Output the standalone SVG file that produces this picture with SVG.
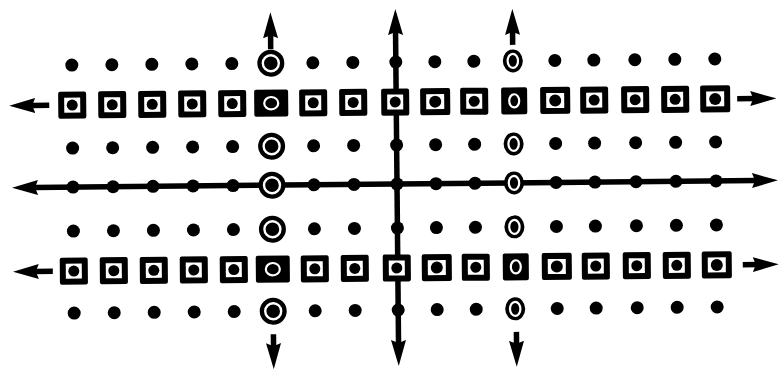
<svg xmlns="http://www.w3.org/2000/svg" xmlns:xlink="http://www.w3.org/1999/xlink" width="780" height="369" viewBox="0 0 780 369">
<style>
.ln{stroke:#000;stroke-width:5.5;fill:none}
.ax{marker-end:url(#ah)}
.ax2{marker-start:url(#ah);marker-end:url(#ah)}
</style>
<defs>
<marker id="ah" markerUnits="userSpaceOnUse" viewBox="0 0 26 16" markerWidth="26" markerHeight="16" refX="4" refY="8" orient="auto-start-reverse">
<path d="M0,0.5 L26,8 L0,15.5 L3,8 Z" fill="#000"/>
</marker>
<circle id="dot" r="6.5" fill="#000"/>
<g id="sq"><rect x="-14" y="-13.5" width="28" height="27" rx="2" fill="#000"/><rect x="-8" y="-7.5" width="16" height="15" fill="#fff"/><circle r="5.5" fill="#000"/></g>
<g id="sqL"><rect x="-15" y="-13.5" width="30" height="27" rx="2" fill="#000"/><rect x="-9" y="-7.5" width="18" height="15" fill="#fff"/><circle r="6" fill="#000"/></g>
<g id="sqW"><rect x="-17" y="-13.5" width="34" height="27" rx="2" fill="#000"/><ellipse rx="7" ry="6.2" fill="none" stroke="#fff" stroke-width="2.2"/></g>
<g id="sqE"><rect x="-13" y="-13.5" width="26" height="27" rx="2" fill="#000"/><ellipse rx="5" ry="6.6" fill="none" stroke="#fff" stroke-width="2.2"/></g>
<g id="rgW"><circle r="13.5" fill="#000"/><circle r="8" fill="none" stroke="#fff" stroke-width="2.4"/></g>
<g id="rgE"><ellipse rx="10" ry="11.5" fill="#000"/><ellipse rx="5.2" ry="7" fill="none" stroke="#fff" stroke-width="2.2"/></g>
</defs>
<g transform="rotate(-0.55 397 184)">
<g id="connectors">
<line class="ln ax" x1="50" y1="102" x2="32" y2="102"/>
<line class="ln ax" x1="738" y1="102" x2="755" y2="102"/>
<line class="ln ax2" x1="34" y1="184" x2="756" y2="184"/>
<line class="ln ax" x1="52" y1="268" x2="34" y2="268"/>
<line class="ln ax" x1="742" y1="268" x2="756" y2="268"/>
<line class="ln ax2" x1="397" y1="31" x2="397" y2="344"/>
<line class="ln ax" x1="272" y1="48" x2="272" y2="33"/>
<line class="ln ax" x1="272" y1="333" x2="272" y2="346"/>
<line class="ln ax" x1="514" y1="46" x2="514" y2="32"/>
<line class="ln ax" x1="515" y1="333" x2="515" y2="346"/>
</g>
<g id="row1">
<g id="r1c1"><use href="#dot" x="73" y="62"/></g>
<g id="r1c2"><use href="#dot" x="113" y="62"/></g>
<g id="r1c3"><use href="#dot" x="153" y="62"/></g>
<g id="r1c4"><use href="#dot" x="193" y="62"/></g>
<g id="r1c5"><use href="#dot" x="233" y="62"/></g>
<g id="r1c6"><use href="#rgW" x="272" y="62"/></g>
<g id="r1c7"><use href="#dot" x="314" y="62"/></g>
<g id="r1c8"><use href="#dot" x="354" y="62"/></g>
<g id="r1c9"><use href="#dot" x="397" y="62"/></g>
<g id="r1c10"><use href="#dot" x="436" y="62"/></g>
<g id="r1c11"><use href="#dot" x="475" y="62"/></g>
<g id="r1c12"><use href="#rgE" x="514" y="62"/></g>
<g id="r1c13"><use href="#dot" x="556" y="62"/></g>
<g id="r1c14"><use href="#dot" x="595" y="62"/></g>
<g id="r1c15"><use href="#dot" x="636" y="62"/></g>
<g id="r1c16"><use href="#dot" x="676" y="62"/></g>
<g id="r1c17"><use href="#dot" x="716" y="62"/></g>
</g>
<g id="row2">
<g id="r2c1"><use href="#sq" x="73" y="102"/></g>
<g id="r2c2"><use href="#sq" x="113" y="102"/></g>
<g id="r2c3"><use href="#sq" x="153" y="102"/></g>
<g id="r2c4"><use href="#sq" x="193" y="102"/></g>
<g id="r2c5"><use href="#sq" x="233" y="102"/></g>
<g id="r2c6"><use href="#sqW" x="272" y="102"/></g>
<g id="r2c7"><use href="#sq" x="314" y="102"/></g>
<g id="r2c8"><use href="#sq" x="354" y="102"/></g>
<g id="r2c9"><use href="#sq" x="396" y="102"/></g>
<g id="r2c10"><use href="#sqL" x="436" y="102"/></g>
<g id="r2c11"><use href="#sq" x="475" y="102"/></g>
<g id="r2c12"><use href="#sqE" x="515" y="102"/></g>
<g id="r2c13"><use href="#sqL" x="556" y="102"/></g>
<g id="r2c14"><use href="#sq" x="595" y="102"/></g>
<g id="r2c15"><use href="#sq" x="636" y="102"/></g>
<g id="r2c16"><use href="#sq" x="676" y="102"/></g>
<g id="r2c17"><use href="#sqL" x="716" y="102"/></g>
</g>
<g id="row3">
<g id="r3c1"><use href="#dot" x="73" y="145"/></g>
<g id="r3c2"><use href="#dot" x="113" y="145"/></g>
<g id="r3c3"><use href="#dot" x="153" y="145"/></g>
<g id="r3c4"><use href="#dot" x="193" y="145"/></g>
<g id="r3c5"><use href="#dot" x="233" y="145"/></g>
<g id="r3c6"><use href="#rgW" x="272" y="145"/></g>
<g id="r3c7"><use href="#dot" x="314" y="145"/></g>
<g id="r3c8"><use href="#dot" x="354" y="145"/></g>
<g id="r3c9"><use href="#dot" x="397" y="145"/></g>
<g id="r3c10"><use href="#dot" x="436" y="145"/></g>
<g id="r3c11"><use href="#dot" x="475" y="145"/></g>
<g id="r3c12"><use href="#rgE" x="514" y="145"/></g>
<g id="r3c13"><use href="#dot" x="556" y="145"/></g>
<g id="r3c14"><use href="#dot" x="595" y="145"/></g>
<g id="r3c15"><use href="#dot" x="636" y="145"/></g>
<g id="r3c16"><use href="#dot" x="676" y="145"/></g>
<g id="r3c17"><use href="#dot" x="716" y="145"/></g>
</g>
<g id="row4">
<g id="r4c1"><use href="#dot" x="73" y="184"/></g>
<g id="r4c2"><use href="#dot" x="113" y="184"/></g>
<g id="r4c3"><use href="#dot" x="153" y="184"/></g>
<g id="r4c4"><use href="#dot" x="193" y="184"/></g>
<g id="r4c5"><use href="#dot" x="233" y="184"/></g>
<g id="r4c6"><use href="#rgW" x="272" y="184"/></g>
<g id="r4c7"><use href="#dot" x="314" y="184"/></g>
<g id="r4c8"><use href="#dot" x="354" y="184"/></g>
<g id="r4c9"><use href="#dot" x="397" y="184"/></g>
<g id="r4c10"><use href="#dot" x="436" y="184"/></g>
<g id="r4c11"><use href="#dot" x="475" y="184"/></g>
<g id="r4c12"><use href="#rgE" x="514" y="184"/></g>
<g id="r4c13"><use href="#dot" x="556" y="184"/></g>
<g id="r4c14"><use href="#dot" x="595" y="184"/></g>
<g id="r4c15"><use href="#dot" x="636" y="184"/></g>
<g id="r4c16"><use href="#dot" x="676" y="184"/></g>
<g id="r4c17"><use href="#dot" x="716" y="184"/></g>
</g>
<g id="row5">
<g id="r5c1"><use href="#dot" x="73" y="228"/></g>
<g id="r5c2"><use href="#dot" x="113" y="228"/></g>
<g id="r5c3"><use href="#dot" x="153" y="228"/></g>
<g id="r5c4"><use href="#dot" x="193" y="228"/></g>
<g id="r5c5"><use href="#dot" x="233" y="228"/></g>
<g id="r5c6"><use href="#rgW" x="272" y="228"/></g>
<g id="r5c7"><use href="#dot" x="314" y="228"/></g>
<g id="r5c8"><use href="#dot" x="354" y="228"/></g>
<g id="r5c9"><use href="#dot" x="397" y="228"/></g>
<g id="r5c10"><use href="#dot" x="436" y="228"/></g>
<g id="r5c11"><use href="#dot" x="475" y="228"/></g>
<g id="r5c12"><use href="#rgE" x="514" y="228"/></g>
<g id="r5c13"><use href="#dot" x="556" y="228"/></g>
<g id="r5c14"><use href="#dot" x="595" y="228"/></g>
<g id="r5c15"><use href="#dot" x="636" y="228"/></g>
<g id="r5c16"><use href="#dot" x="676" y="228"/></g>
<g id="r5c17"><use href="#dot" x="716" y="228"/></g>
</g>
<g id="row6">
<g id="r6c1"><use href="#sq" x="73" y="268"/></g>
<g id="r6c2"><use href="#sq" x="113" y="268"/></g>
<g id="r6c3"><use href="#sq" x="153" y="268"/></g>
<g id="r6c4"><use href="#sq" x="193" y="268"/></g>
<g id="r6c5"><use href="#sq" x="233" y="268"/></g>
<g id="r6c6"><use href="#sqW" x="272" y="268"/></g>
<g id="r6c7"><use href="#sq" x="314" y="268"/></g>
<g id="r6c8"><use href="#sq" x="354" y="268"/></g>
<g id="r6c9"><use href="#sq" x="396" y="268"/></g>
<g id="r6c10"><use href="#sqL" x="436" y="268"/></g>
<g id="r6c11"><use href="#sq" x="475" y="268"/></g>
<g id="r6c12"><use href="#sqE" x="515" y="268"/></g>
<g id="r6c13"><use href="#sqL" x="556" y="268"/></g>
<g id="r6c14"><use href="#sq" x="595" y="268"/></g>
<g id="r6c15"><use href="#sq" x="636" y="268"/></g>
<g id="r6c16"><use href="#sq" x="676" y="268"/></g>
<g id="r6c17"><use href="#sqL" x="716" y="268"/></g>
</g>
<g id="row7">
<g id="r7c1"><use href="#dot" x="73" y="310"/></g>
<g id="r7c2"><use href="#dot" x="113" y="310"/></g>
<g id="r7c3"><use href="#dot" x="153" y="310"/></g>
<g id="r7c4"><use href="#dot" x="193" y="310"/></g>
<g id="r7c5"><use href="#dot" x="233" y="310"/></g>
<g id="r7c6"><use href="#rgW" x="272" y="310"/></g>
<g id="r7c7"><use href="#dot" x="314" y="310"/></g>
<g id="r7c8"><use href="#dot" x="354" y="310"/></g>
<g id="r7c9"><use href="#dot" x="397" y="310"/></g>
<g id="r7c10"><use href="#dot" x="436" y="310"/></g>
<g id="r7c11"><use href="#dot" x="475" y="310"/></g>
<g id="r7c12"><use href="#rgE" x="514" y="310"/></g>
<g id="r7c13"><use href="#dot" x="556" y="310"/></g>
<g id="r7c14"><use href="#dot" x="595" y="310"/></g>
<g id="r7c15"><use href="#dot" x="636" y="310"/></g>
<g id="r7c16"><use href="#dot" x="676" y="310"/></g>
<g id="r7c17"><use href="#dot" x="716" y="310"/></g>
</g>
</g>
</svg>
